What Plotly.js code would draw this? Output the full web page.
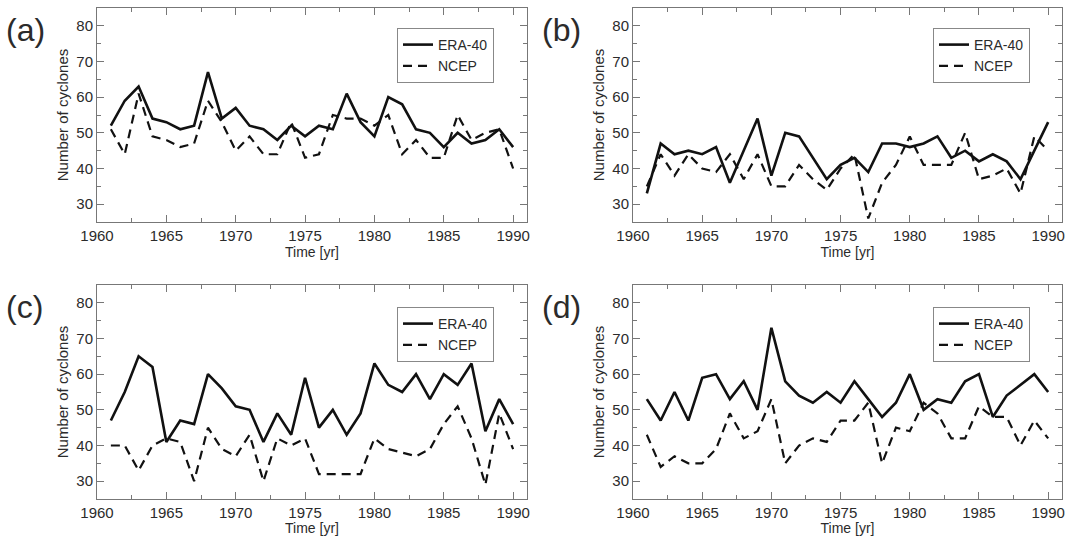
<!DOCTYPE html>
<html>
<head>
<meta charset="utf-8">
<script src="https://cdn.plot.ly/plotly-3.0.1.min.js"></script>
<style>html,body{margin:0;padding:0;background:#fff;}#chart{width:1069px;height:536px;}</style>
</head>
<body>
<div id="chart"></div>
<script>
var years = [1961,1962,1963,1964,1965,1966,1967,1968,1969,1970,1971,1972,1973,1974,1975,1976,1977,1978,1979,1980,1981,1982,1983,1984,1985,1986,1987,1988,1989,1990];
var a_era  = [52,59,63,54,53,51,52,67,54,57,52,51,48,52,49,52,51,61,53,49,60,58,51,50,46,50,47,48,51,46];
var a_ncep = [51,44,61,49,48,46,47,59,53,45,49,44,44,53,43,44,55,54,54,52,55,44,48,43,43,55,48,50,51,40];
var b_era  = [33,47,44,45,44,46,36,45,54,38,50,49,43,37,41,43,39,47,47,46,47,49,43,45,42,44,42,37,45,53];
var b_ncep = [35,44,38,44,40,39,44,37,44,35,35,41,37,34,40,44,26,36,41,49,41,41,41,50,37,38,40,33,49,45];
var c_era  = [47,55,65,62,41,47,46,60,56,51,50,41,49,43,59,45,50,43,49,63,57,55,60,53,60,57,63,44,53,46];
var c_ncep = [40,40,33,40,42,41,30,45,39,37,43,30,42,40,42,32,32,32,32,42,39,38,37,39,46,51,42,29,49,39];
var d_era  = [53,47,55,47,59,60,53,58,50,73,58,54,52,55,52,58,53,48,52,60,50,53,52,58,60,48,54,57,60,55];
var d_ncep = [43,34,37,35,35,39,49,42,44,53,35,40,42,41,47,47,52,35,45,44,52,49,42,42,51,48,48,40,47,42];
var panelLabels = ["(a)","(b)","(c)","(d)"];
var seriesNames = ["ERA-40","NCEP"];
var xTitle = "Time [yr]";
var yTitle = "Number of cyclones";

var FONT = '"Liberation Sans", Arial, Helvetica, sans-serif';
var TXT = '#2b2b2b';
var panels = [[a_era,a_ncep],[b_era,b_ncep],[c_era,c_ncep],[d_era,d_ncep]];
var traces = [];
panels.forEach(function(p, i){
  var ax = i === 0 ? '' : String(i+1);
  var lg = i === 0 ? 'legend' : 'legend' + (i+1);
  traces.push({x: years, y: p[0], name: seriesNames[0], mode: 'lines', xaxis: 'x'+ax, yaxis: 'y'+ax, legend: lg,
    line: {color: '#111', width: 2.6}});
  traces.push({x: years, y: p[1], name: seriesNames[1], mode: 'lines', xaxis: 'x'+ax, yaxis: 'y'+ax, legend: lg,
    line: {color: '#111', width: 2.2, dash: '9px,6px'}});
});

function xax(dom, anchor){
  return {domain: dom, anchor: anchor, range: [1960, 1991], tickvals: [1960,1965,1970,1975,1980,1985,1990],
    ticks: 'inside', ticklen: 7, tickcolor: '#777', showline: true, linecolor: '#777', linewidth: 1, mirror: 'ticks',
    minor: {dtick: 2.5, tick0: 1960, ticks: 'inside', ticklen: 4, tickcolor: '#777', showgrid: false},
    showgrid: false, zeroline: false, tickfont: {family: FONT, size: 15, color: TXT},
    title: {text: xTitle, font: {family: FONT, size: 14, color: TXT}, standoff: 0}};
}
function yax(dom, anchor){
  return {domain: dom, anchor: anchor, range: [25, 85], tickvals: [30,40,50,60,70,80],
    ticks: 'inside', ticklen: 7, tickcolor: '#777', showline: true, linecolor: '#777', linewidth: 1, mirror: 'ticks',
    minor: {dtick: 5, tick0: 25, ticks: 'inside', ticklen: 4, tickcolor: '#777', showgrid: false},
    showgrid: false, zeroline: false, tickfont: {family: FONT, size: 15, color: TXT},
    title: {text: yTitle, font: {family: FONT, size: 15, color: TXT}, standoff: 4}};
}
var W = 1069, H = 536;
var xL = [97/W, 527/W], xR = [633/W, 1062/W];
var yT = [1-222/H, 1-8/H], yB = [1-499/H, 1-285/H];

function leg(x, y){
  return {x: x, y: y, xanchor: 'left', yanchor: 'top', bgcolor: '#fff', bordercolor: '#888', borderwidth: 1,
    font: {family: FONT, size: 14, color: TXT}, itemwidth: 30, tracegroupgap: 0};
}

var annotations = [];
var labPos = [[4, 30],[540, 30],[4, 307],[540, 307]];
panelLabels.forEach(function(t, i){
  annotations.push({text: t, xref: 'paper', yref: 'paper', x: labPos[i][0]/W, y: 1-labPos[i][1]/H,
    xanchor: 'left', yanchor: 'middle', showarrow: false, font: {family: FONT, size: 32, color: TXT}});
});

var layout = {
  width: W, height: H, margin: {l: 0, r: 0, t: 0, b: 0}, paper_bgcolor: '#fff', plot_bgcolor: '#fff',
  showlegend: true,
  xaxis: xax(xL, 'y'), yaxis: yax(yT, 'x'),
  xaxis2: xax(xR, 'y2'), yaxis2: yax(yT, 'x2'),
  xaxis3: xax(xL, 'y3'), yaxis3: yax(yB, 'x3'),
  xaxis4: xax(xR, 'y4'), yaxis4: yax(yB, 'x4'),
  legend: leg(397/W, 1-28/H), legend2: leg(933/W, 1-28/H),
  legend3: leg(397/W, 1-307/H), legend4: leg(933/W, 1-307/H),
  annotations: annotations
};
Plotly.newPlot('chart', traces, layout, {displayModeBar: false, staticPlot: true});
</script>
</body>
</html>
